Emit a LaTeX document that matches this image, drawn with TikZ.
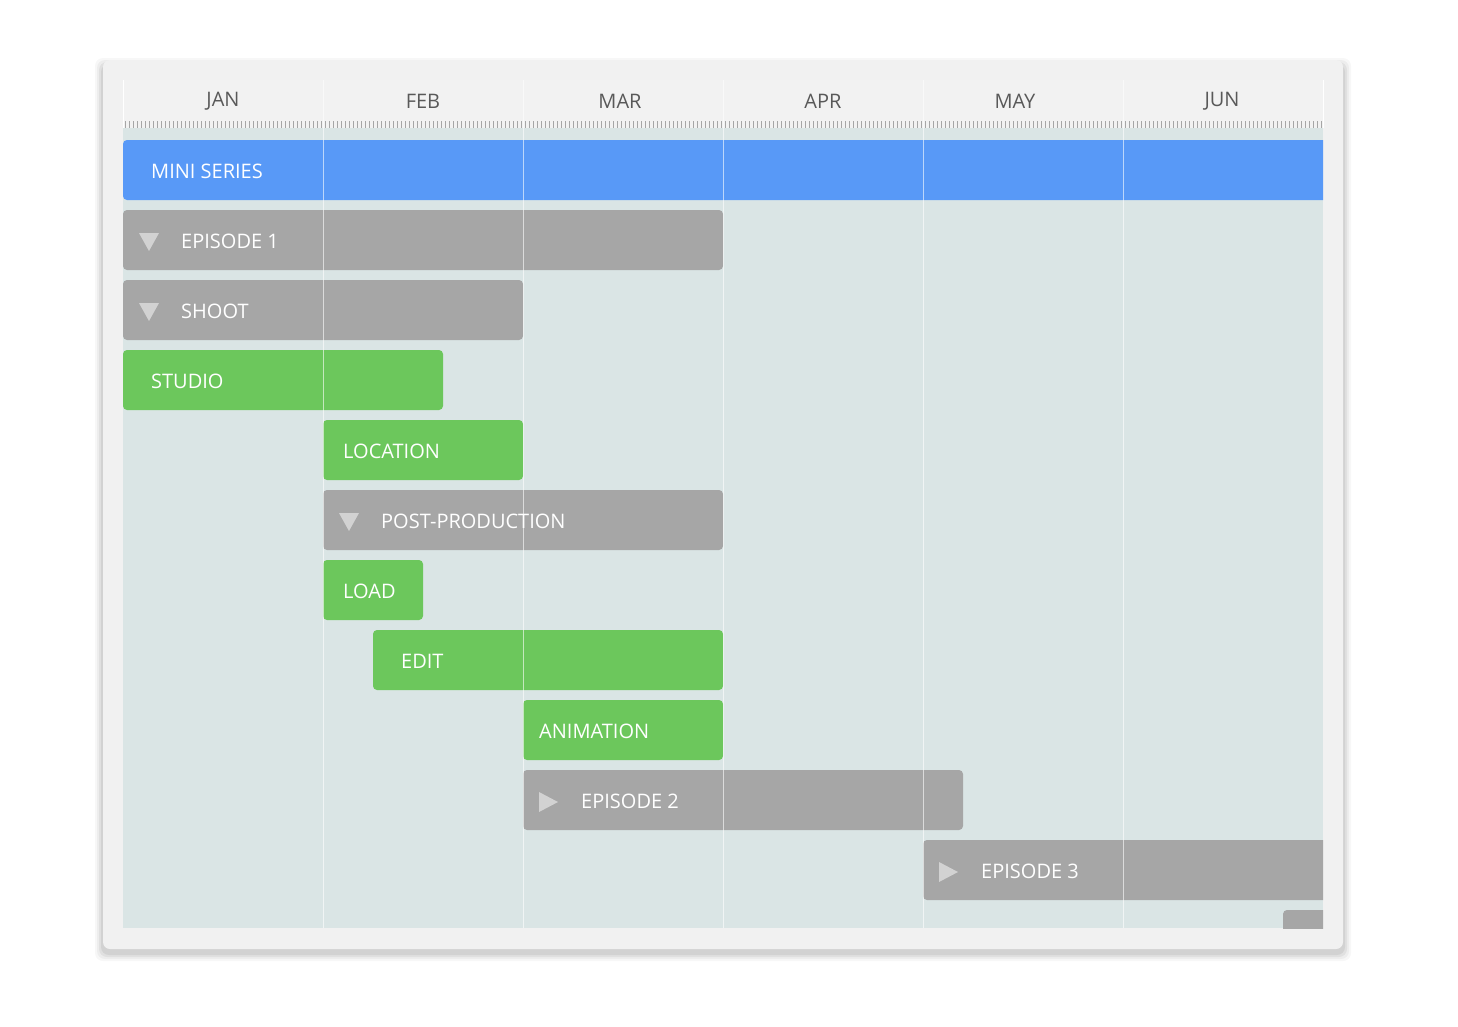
\documentclass[tikz,border=0pt]{standalone}
\usepackage{fontspec}
\setmainfont{Open Sans}
\begin{document}
\begin{tikzpicture}[x=1pt,y=-1pt,
  lbl/.style={anchor=west,text=white,font=\fontsize{20}{24}\selectfont,inner sep=0},
  mon/.style={text=black!65,font=\fontsize{20}{24}\selectfont,inner sep=0},
  gbar/.style={fill=barGray,rounded corners=4pt},
  grbar/.style={fill=barGreen,rounded corners=4pt},
  tri/.style={fill=triGray}]
\definecolor{barGray}{HTML}{A6A6A6}
\definecolor{barGreen}{HTML}{6CC75C}
\definecolor{barBlue}{HTML}{5899F7}
\definecolor{triGray}{HTML}{D2D2D2}
\definecolor{bodyBg}{HTML}{DAE5E5}
\definecolor{frameBg}{HTML}{F1F1F1}
\useasboundingbox (0,0) rectangle (1458,1026);
\fill[white] (0,0) rectangle (1458,1026);
% shadow
\foreach \i/\o in {8/0.03,6/0.04,4/0.05,2/0.06}
  \fill[black,opacity=\o,rounded corners=8pt] (103-\i,62-\i+4) rectangle (1343+\i,949+\i+4);
\fill[frameBg,rounded corners=7pt] (103,60) rectangle (1343,949);
% header
\fill[black!5] (123,80) rectangle (1323,128);
\fill[bodyBg] (123,128) rectangle (1323,928);
\foreach \x in {125,129,...,1321} \draw[black!35,line width=0.6pt] (\x,121) -- (\x,128);
\foreach \m/\c in {JAN/223,FEB/423,MAR/620,APR/823,MAY/1015,JUN/1222}
  \node[mon] (m\m) at (\c,101) {\m};
\begin{scope}
\clip (123,80) rectangle (1323,928);
\fill[barBlue,rounded corners=4pt] (123,140) rectangle (1340,200);
\node[lbl] (n0) at (151,171) {MINI SERIES};
\fill[gbar] (123,210) rectangle (723,270);
\fill[tri] (139,233) -- (159,233) -- (149,251) -- cycle;
\node[lbl] (n1) at (181,241) {EPISODE 1};
\fill[gbar] (123,280) rectangle (523,340);
\fill[tri] (139,303) -- (159,303) -- (149,321) -- cycle;
\node[lbl] (n2) at (181,311) {SHOOT};
\fill[grbar] (123,350) rectangle (443,410);
\node[lbl] (n3) at (151,381) {STUDIO};
\fill[grbar] (323,420) rectangle (523,480);
\node[lbl] (n4) at (343,451) {LOCATION};
\fill[gbar] (323,490) rectangle (723,550);
\fill[tri] (339,513) -- (359,513) -- (349,531) -- cycle;
\node[lbl] (n5) at (381,521) {POST-PRODUCTION};
\fill[grbar] (323,560) rectangle (423,620);
\node[lbl] (n6) at (343,591) {LOAD};
\fill[grbar] (373,630) rectangle (723,690);
\node[lbl] (n7) at (401,661) {EDIT};
\fill[grbar] (523,700) rectangle (723,760);
\node[lbl] (n8) at (539,731) {ANIMATION};
\fill[gbar] (523,770) rectangle (963,830);
\fill[tri] (539,792) -- (539,812) -- (558,802) -- cycle;
\node[lbl] (n9) at (581,801) {EPISODE 2};
\fill[gbar] (923,840) rectangle (1340,900);
\fill[tri] (939,862) -- (939,882) -- (958,872) -- cycle;
\node[lbl] (n10) at (981,871) {EPISODE 3};
\fill[gbar] (1283,910) rectangle (1340,960);
\foreach \x in {323,523,723,923,1123}
  \draw[white,opacity=0.6,line width=1pt] (\x,80) -- (\x,928);
\end{scope}
\draw[white,line width=1pt] (123,80) -- (123,128);
\draw[white,line width=1pt] (1323,80) -- (1323,128);
\end{tikzpicture}
\end{document}
